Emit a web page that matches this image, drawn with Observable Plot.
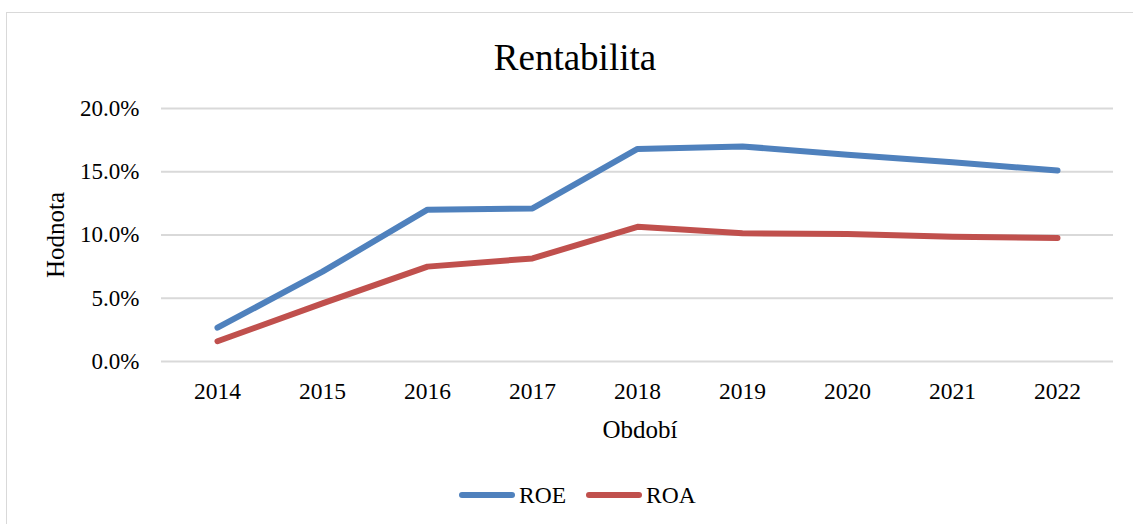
<!DOCTYPE html>
<html>
<head>
<meta charset="utf-8">
<script src="https://cdn.jsdelivr.net/npm/d3@7"></script>
<script src="https://cdn.jsdelivr.net/npm/@observablehq/plot@0.6"></script>
<style>
  html, body { margin: 0; padding: 0; background: #fff; width: 1133px; height: 524px; overflow: hidden; }
  body { position: relative; font-family: "Liberation Serif", "Times New Roman", serif; color: #000; }
  #frame { position: absolute; left: 6px; top: 12px; width: 1150px; height: 540px; border: 1.5px solid #d9d9d9; box-sizing: border-box; }
  #chart { position: absolute; left: 0; top: 0; }
  .lbl { position: absolute; white-space: nowrap; }
  #title { left: 0; width: 1150px; top: 38px; text-align: center; font-size: 37px; line-height: 40px; }
  #ylab { left: 56px; top: 235px; font-size: 25px; transform: translate(-50%, -50%) rotate(-90deg); }
  #xlab { left: 640px; top: 430px; font-size: 25px; transform: translate(-50%, -50%); }
  #legend { position: absolute; top: 480px; left: 459px; display: flex; align-items: center; font-size: 23.5px; height: 30px; }
  .sw { display: inline-block; width: 56px; height: 6px; border-radius: 3px; margin-right: 4px; }
  .item { display: flex; align-items: center; margin-right: 20px; }
</style>
</head>
<body>
<div id="frame"></div>
<div id="chart"></div>
<div class="lbl" id="title">Rentabilita</div>
<div class="lbl" id="ylab">Hodnota</div>
<div class="lbl" id="xlab">Období</div>
<div id="legend"></div>
<script>
const years = ["2014","2015","2016","2017","2018","2019","2020","2021","2022"];
const roe = [0.0267, 0.071, 0.120, 0.121, 0.168, 0.170, 0.1635, 0.1575, 0.151];
const roa = [0.016, 0.046, 0.075, 0.0815, 0.1065, 0.1013, 0.1008, 0.0987, 0.0977];
const seriesNames = ["ROE", "ROA"];
const seriesColors = ["#4f81bd", "#c0504d"];
const yTicks = [0, 0.05, 0.10, 0.15, 0.20];

const rows = [];
years.forEach((y, i) => {
  rows.push({year: y, value: roe[i], series: "ROE"});
  rows.push({year: y, value: roa[i], series: "ROA"});
});

const chart = Plot.plot({
  width: 1133,
  height: 460,
  marginLeft: 161,
  marginRight: 20,
  marginTop: 108,
  marginBottom: 99,
  style: {fontFamily: "'Liberation Serif', 'Times New Roman', serif", fontSize: "23px", color: "#000", background: "transparent"},
  x: {type: "point", domain: years, padding: 0.5, label: null},
  y: {domain: [0, 0.2], label: null},
  color: {domain: seriesNames, range: seriesColors},
  marks: [
    Plot.ruleY(yTicks, {stroke: "#d9d9d9", strokeWidth: 2}),
    Plot.axisY({ticks: yTicks, tickFormat: d3.format(".1%"), tickSize: 0, tickPadding: 22, label: null, fontSize: 23}),
    Plot.axisX({tickSize: 0, tickPadding: 21, label: null, fontSize: 23.5}),
    Plot.lineY(rows, {x: "year", y: "value", z: "series", stroke: "series", strokeWidth: 6, strokeLinecap: "round", strokeLinejoin: "round"})
  ]
});
document.getElementById("chart").appendChild(chart);

const legend = document.getElementById("legend");
seriesNames.forEach((n, i) => {
  const it = document.createElement("div");
  it.className = "item";
  const sw = document.createElement("span");
  sw.className = "sw";
  sw.style.background = seriesColors[i];
  const t = document.createElement("span");
  t.textContent = n;
  it.appendChild(sw); it.appendChild(t);
  legend.appendChild(it);
});
</script>
</body>
</html>
